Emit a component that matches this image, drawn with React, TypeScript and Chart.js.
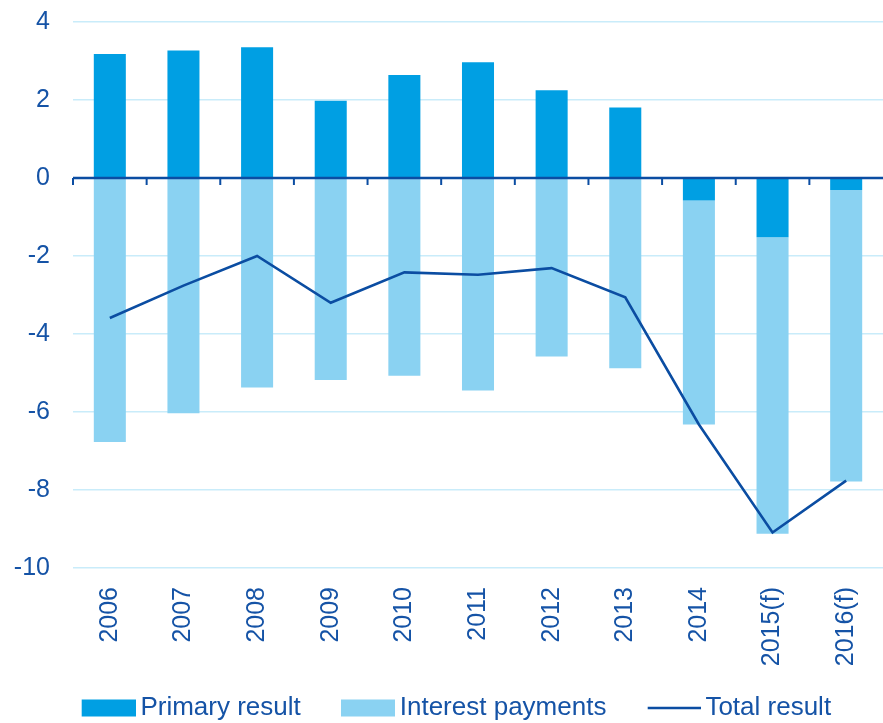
import React, { useEffect, useRef } from "react";
import { Chart, registerables } from "chart.js";

Chart.register(...registerables);

const categories = ["2006", "2007", "2008", "2009", "2010", "2011", "2012", "2013", "2014", "2015(f)", "2016(f)"];
const primaryResult = [3.18, 3.27, 3.35, 1.98, 2.64, 2.97, 2.25, 1.81, -0.58, -1.52, -0.31];
const interestPayments = [-6.77, -6.03, -5.37, -5.18, -5.07, -5.45, -4.58, -4.88, -5.74, -7.6, -7.47];
const totalResult = [-3.59, -2.76, -2.0, -3.2, -2.42, -2.48, -2.31, -3.06, -6.32, -9.09, -7.76];
const yTicks = [4, 2, 0, -2, -4, -6, -8, -10];

const PRIMARY = "#009FE3";
const INTEREST = "#8AD2F2";
const DARK = "#0B4DA2";
const TEXT = "#1553A6";
const GRID = "#C9ECFA";
const FONT = "'Liberation Sans', Arial, sans-serif";

const LEG_W = 75.5;
const LEG_PAD = 10.5;

function makeIcon(kind: "box" | "line", color: string): HTMLCanvasElement {
  const c = document.createElement("canvas");
  c.width = Math.round(LEG_W + 16);
  c.height = 26;
  const ctx = c.getContext("2d")!;
  ctx.fillStyle = color;
  if (kind === "box") {
    ctx.fillRect(c.width - 54, 4.5, 54, 17);
  } else {
    ctx.fillRect(c.width - 53, 11.75, 53, 2.5);
  }
  return c;
}

const zeroLinePlugin = {
  id: "zeroLine",
  afterDatasetsDraw(chart: any) {
    const { ctx, chartArea, scales } = chart;
    const x = scales.x;
    const y = scales.y;
    const y0 = y.getPixelForValue(0);
    const n = chart.data.labels.length;
    const step = x.width / n;
    ctx.save();
    ctx.strokeStyle = DARK;
    ctx.lineWidth = 2.5;
    ctx.beginPath();
    ctx.moveTo(chartArea.left, y0);
    ctx.lineTo(chartArea.right, y0);
    ctx.stroke();
    ctx.lineWidth = 2;
    for (let i = 0; i < n; i++) {
      const px = x.getPixelForValue(i) - step / 2;
      ctx.beginPath();
      ctx.moveTo(px, y0);
      ctx.lineTo(px, y0 + 7);
      ctx.stroke();
    }
    ctx.restore();
  },
};

export default function App() {
  const ref = useRef<HTMLCanvasElement>(null);

  useEffect(() => {
    if (!ref.current) return;
    const icons = [makeIcon("box", PRIMARY), makeIcon("box", INTEREST), makeIcon("line", DARK)];
    const chart = new Chart(ref.current, {
      type: "bar",
      data: {
        labels: categories,
        datasets: [
          {
            type: "bar",
            label: "Primary result",
            data: primaryResult,
            backgroundColor: PRIMARY,
            stack: "bars",
            order: 1,
            categoryPercentage: 1,
            barPercentage: 0.435,
          },
          {
            type: "bar",
            label: "Interest payments",
            data: interestPayments,
            backgroundColor: INTEREST,
            stack: "bars",
            order: 1,
            categoryPercentage: 1,
            barPercentage: 0.435,
          },
          {
            type: "line",
            label: "Total result",
            data: totalResult,
            borderColor: DARK,
            backgroundColor: DARK,
            borderWidth: 2.6,
            pointRadius: 0,
            tension: 0,
            fill: false,
            stack: "total",
            order: 0,
          } as any,
        ],
      },
      options: {
        responsive: false,
        animation: false,
        layout: { padding: { top: 22, left: 0, right: 0, bottom: 0 } },
        scales: {
          x: {
            stacked: true,
            offset: true,
            grid: { display: false, drawTicks: false },
            border: { display: false },
            ticks: {
              color: TEXT,
              font: { family: FONT, size: 25 },
              minRotation: 90,
              maxRotation: 90,
              padding: 19,
              autoSkip: false,
            },
            afterFit(scale: any) {
              scale.height = 116.5;
              scale.paddingLeft = 0;
              scale.paddingRight = 0;
            },
          },
          y: {
            stacked: true,
            min: -10,
            max: 4,
            grid: {
              color: (c: any) => (c.tick && c.tick.value === 0 ? "rgba(0,0,0,0)" : GRID),
              lineWidth: 1.5,
              drawTicks: false,
            },
            border: { display: false },
            afterBuildTicks(scale: any) {
              scale.ticks = yTicks.map((v) => ({ value: v }));
            },
            ticks: {
              color: TEXT,
              font: { family: FONT, size: 25 },
              padding: 23,
              stepSize: 2,
            },
            afterFit(scale: any) {
              scale.width = 73;
              scale.paddingTop = 0;
              scale.paddingBottom = 0;
            },
          },
        },
        plugins: {
          tooltip: { enabled: false },
          legend: {
            position: "bottom",
            maxHeight: 38.5,
            labels: {
              usePointStyle: true,
              pointStyleWidth: LEG_W,
              padding: LEG_PAD,
              color: TEXT,
              font: { family: FONT, size: 26 },
              generateLabels(ch: any) {
                const base = Chart.defaults.plugins.legend.labels.generateLabels(ch);
                return base
                  .sort((a: any, b: any) => a.datasetIndex - b.datasetIndex)
                  .map((it: any) => ({ ...it, pointStyle: icons[it.datasetIndex], lineWidth: 0 }));
              },
            },
          },
        },
      },
      plugins: [zeroLinePlugin],
    } as any);
    return () => chart.destroy();
  }, []);

  return (
    <div style={{ position: "fixed", left: 0, top: 0, width: 883, height: 723, background: "#fff" }}>
      <canvas ref={ref} width={883} height={723} style={{ display: "block" }} />
    </div>
  );
}
